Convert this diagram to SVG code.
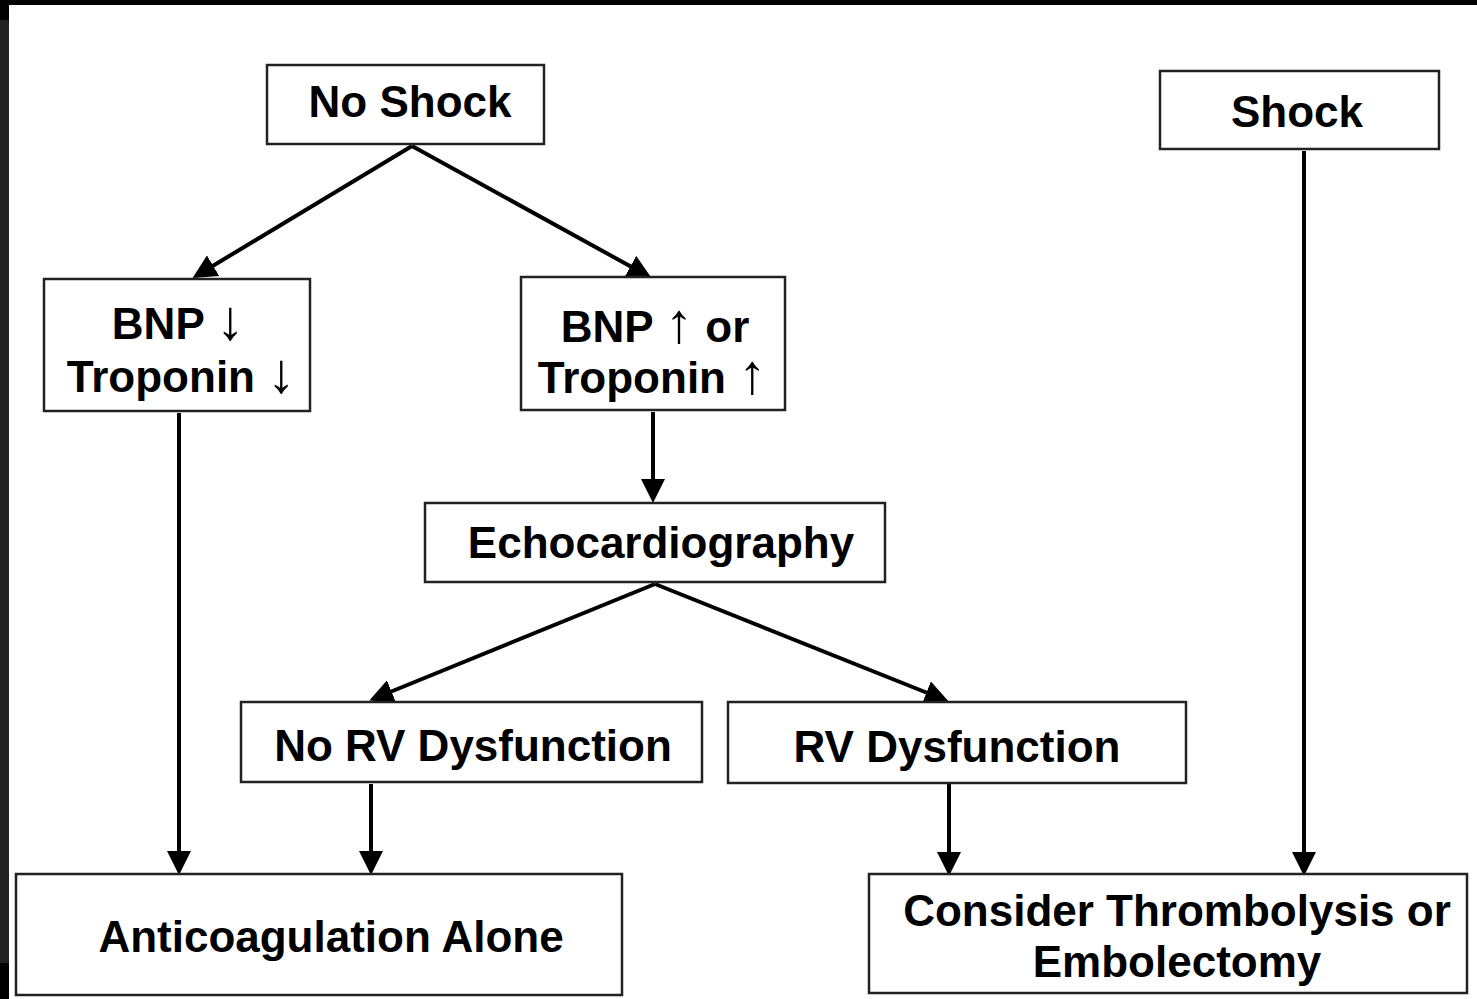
<svg xmlns="http://www.w3.org/2000/svg" width="1477" height="999" viewBox="0 0 1477 999">
<style>
.box{fill:#fff;stroke:#222;stroke-width:2.5}
.t{font-family:"Liberation Sans",Arial,sans-serif;font-weight:bold;font-size:44px;fill:#000;text-anchor:middle}
.ar{font-family:"Liberation Sans",Arial,sans-serif;font-weight:normal;font-size:56px}
.c{stroke:#000;stroke-width:4;fill:none;marker-end:url(#ah)}
</style>
<defs>
<marker id="ah" markerWidth="6" markerHeight="6" refX="5" refY="3" orient="auto" markerUnits="strokeWidth">
<path d="M0,0 L6,3 L0,6 Z" fill="#000"/>
</marker>
</defs>
<rect x="0" y="0" width="1477" height="999" fill="#000"/>
<rect x="0" y="20" width="9" height="943" fill="#222"/>
<rect x="9" y="5" width="1468" height="994" fill="#fff"/>
<g id="connectors">
<line class="c" x1="412" y1="146" x2="196" y2="276"/>
<line class="c" x1="412" y1="146" x2="648" y2="276"/>
<line class="c" x1="653" y1="412" x2="653" y2="499"/>
<line class="c" x1="655" y1="584" x2="373" y2="699"/>
<line class="c" x1="655" y1="584" x2="945" y2="700"/>
<line class="c" x1="179" y1="413" x2="179" y2="871"/>
<line class="c" x1="371" y1="784" x2="371" y2="871"/>
<line class="c" x1="949" y1="784" x2="949" y2="872"/>
<line class="c" x1="1304" y1="151" x2="1304" y2="872"/>
</g>
<g id="no-shock"><rect class="box" x="267" y="65" width="277" height="79"/><text class="t" x="410" y="117">No Shock</text></g>
<g id="shock"><rect class="box" x="1160" y="71" width="279" height="78"/><text class="t" x="1297" y="127">Shock</text></g>
<g id="bnp-low"><rect class="box" x="44" y="279" width="266" height="132"/><text class="t" x="178" y="339">BNP <tspan class="ar">↓</tspan></text><text class="t" x="181" y="392">Troponin <tspan class="ar">↓</tspan></text></g>
<g id="bnp-high"><rect class="box" x="521" y="277" width="264" height="133"/><text class="t" x="655" y="342">BNP <tspan class="ar">↑</tspan> or</text><text class="t" x="652" y="393">Troponin <tspan class="ar">↑</tspan></text></g>
<g id="echo"><rect class="box" x="425" y="503" width="460" height="79"/><text class="t" x="661" y="558">Echocardiography</text></g>
<g id="no-rv"><rect class="box" x="241" y="702" width="461" height="80"/><text class="t" x="473" y="761">No RV Dysfunction</text></g>
<g id="rv"><rect class="box" x="728" y="702" width="458" height="81"/><text class="t" x="957" y="762">RV Dysfunction</text></g>
<g id="anticoag"><rect class="box" x="16" y="874" width="606" height="121"/><text class="t" x="331" y="952">Anticoagulation Alone</text></g>
<g id="thrombolysis"><rect class="box" x="869" y="874" width="598" height="119"/><text class="t" x="1177" y="926">Consider Thrombolysis or</text><text class="t" x="1177" y="977">Embolectomy</text></g>
</svg>
